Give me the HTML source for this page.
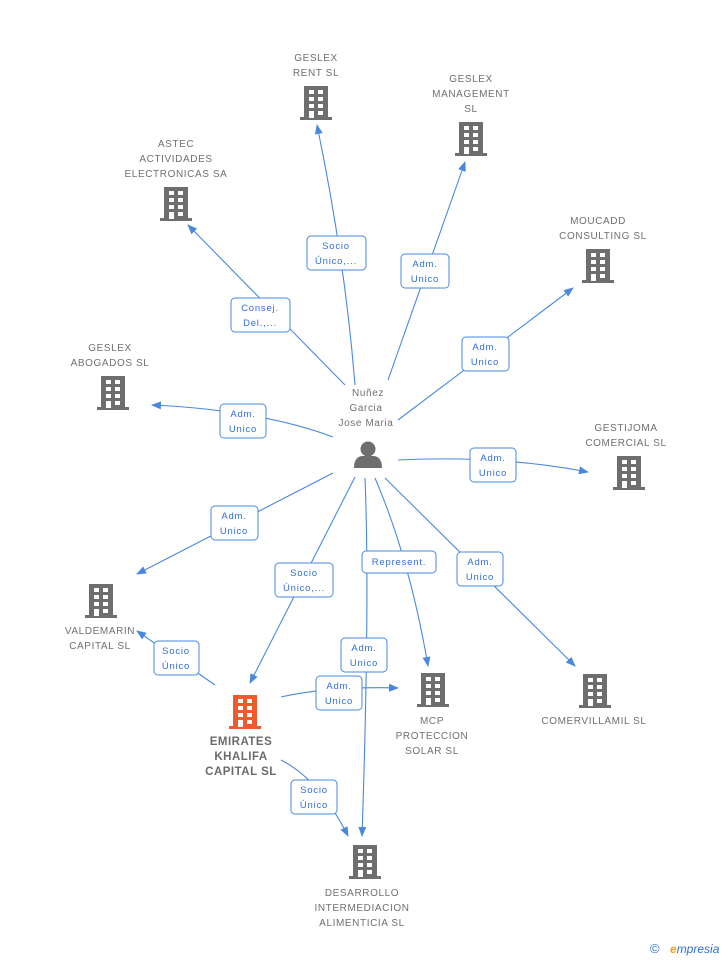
<!DOCTYPE html>
<html><head><meta charset="utf-8"><style>
body{margin:0;background:#fff;}
svg{display:block;font-family:"Liberation Sans",sans-serif;}
.n{font-size:10px;fill:#707070;text-anchor:middle;letter-spacing:0.6px}
.b{font-size:11.5px;fill:#6b6b6b;text-anchor:middle;font-weight:bold;letter-spacing:0.5px}
.l{font-size:9.5px;fill:#2f6fd8;text-anchor:middle;letter-spacing:0.8px}
.e{stroke:#4a88e0;stroke-width:1.1;fill:none}
.bx{fill:#fff;stroke:#4a88e0;stroke-width:1;rx:4}
</style></head><body>
<svg width="728" height="960" viewBox="0 0 728 960">
<defs>
<symbol id="bd" viewBox="0 0 32 34">
<rect x="4" y="0" width="24" height="32"/>
<rect x="0" y="31" width="32" height="3"/>
<g fill="#fff">
<rect x="9" y="4" width="5" height="4"/><rect x="18" y="4" width="5" height="4"/>
<rect x="9" y="11" width="5" height="4"/><rect x="18" y="11" width="5" height="4"/>
<rect x="9" y="18" width="5" height="4"/><rect x="18" y="18" width="5" height="4"/>
<rect x="9" y="25" width="5" height="7"/><rect x="18" y="25" width="5" height="4"/>
</g>
</symbol>
<marker id="a" markerWidth="10" markerHeight="10" refX="9" refY="5" orient="auto" markerUnits="userSpaceOnUse"><path d="M0,1 L10,5 L0,9 Z" fill="#4a88e0"/></marker>
</defs>

<g class="e" marker-end="url(#a)">
<path d="M355,385 Q345,260 317,125"/>
<path d="M388,380 L465,162"/>
<path d="M345,385 L188,225"/>
<path d="M398,420 L573,288"/>
<path d="M333,437 Q260,410 152,405"/>
<path d="M398,460 Q500,455 588,472"/>
<path d="M333,473 L137,574"/>
<path d="M355,477 L250,683"/>
<path d="M365,478 Q370,600 362,836"/>
<path d="M375,478 Q410,560 428,666"/>
<path d="M385,478 L575,666"/>
<path d="M215,685 L137,631"/>
<path d="M281,697 Q330,686 398,688"/>
<path d="M281,760 Q320,780 348,836"/>
</g>

<g>
<rect class="bx" x="307" y="236" width="59" height="34"/><text class="l" x="336" y="249">Socio</text><text class="l" x="336" y="264">Único,...</text>
<rect class="bx" x="401" y="254" width="48" height="34"/><text class="l" x="425" y="267">Adm.</text><text class="l" x="425" y="282">Unico</text>
<rect class="bx" x="231" y="298" width="59" height="34"/><text class="l" x="260" y="311">Consej.</text><text class="l" x="260" y="326">Del.,...</text>
<rect class="bx" x="462" y="337" width="47" height="34"/><text class="l" x="485" y="350">Adm.</text><text class="l" x="485" y="365">Unico</text>
<rect class="bx" x="220" y="404" width="46" height="34"/><text class="l" x="243" y="417">Adm.</text><text class="l" x="243" y="432">Unico</text>
<rect class="bx" x="470" y="448" width="46" height="34"/><text class="l" x="493" y="461">Adm.</text><text class="l" x="493" y="476">Unico</text>
<rect class="bx" x="211" y="506" width="47" height="34"/><text class="l" x="234" y="519">Adm.</text><text class="l" x="234" y="534">Unico</text>
<rect class="bx" x="275" y="563" width="58" height="34"/><text class="l" x="304" y="576">Socio</text><text class="l" x="304" y="591">Único,...</text>
<rect class="bx" x="362" y="551" width="74" height="22"/><text class="l" x="399" y="565">Represent.</text>
<rect class="bx" x="457" y="552" width="46" height="34"/><text class="l" x="480" y="565">Adm.</text><text class="l" x="480" y="580">Unico</text>
<rect class="bx" x="341" y="638" width="46" height="34"/><text class="l" x="364" y="651">Adm.</text><text class="l" x="364" y="666">Unico</text>
<rect class="bx" x="154" y="641" width="45" height="34"/><text class="l" x="176" y="654">Socio</text><text class="l" x="176" y="669">Único</text>
<rect class="bx" x="316" y="676" width="46" height="34"/><text class="l" x="339" y="689">Adm.</text><text class="l" x="339" y="704">Unico</text>
<rect class="bx" x="291" y="780" width="46" height="34"/><text class="l" x="314" y="793">Socio</text><text class="l" x="314" y="808">Único</text>
</g>

<g fill="#6e6e6e">
<use href="#bd" x="300" y="86" width="32" height="34"/>
<use href="#bd" x="455" y="122" width="32" height="34"/>
<use href="#bd" x="160" y="187" width="32" height="34"/>
<use href="#bd" x="582" y="249" width="32" height="34"/>
<use href="#bd" x="97" y="376" width="32" height="34"/>
<use href="#bd" x="613" y="456" width="32" height="34"/>
<use href="#bd" x="85" y="584" width="32" height="34"/>
<use href="#bd" x="417" y="673" width="32" height="34"/>
<use href="#bd" x="579" y="674" width="32" height="34"/>
<use href="#bd" x="349" y="845" width="32" height="34"/>
</g>
<use href="#bd" x="229" y="695" width="32" height="34" fill="#f05a2c"/>

<g fill="#6e6e6e">
<circle cx="368" cy="449" r="7.5"/>
<path d="M354,468 Q354,457 362,456 L374,456 Q382,457 382,468 Z"/>
</g>

<text class="n" x="316" y="61">GESLEX</text><text class="n" x="316" y="76">RENT  SL</text>
<text class="n" x="471" y="82">GESLEX</text><text class="n" x="471" y="97">MANAGEMENT</text><text class="n" x="471" y="112">SL</text>
<text class="n" x="176" y="147">ASTEC</text><text class="n" x="176" y="162">ACTIVIDADES</text><text class="n" x="176" y="177">ELECTRONICAS SA</text>
<text class="n" x="598" y="224">MOUCADD</text><text class="n" x="603" y="239">CONSULTING SL</text>
<text class="n" x="110" y="351">GESLEX</text><text class="n" x="110" y="366">ABOGADOS SL</text>
<text class="n" x="368" y="396">Nuñez</text><text class="n" x="366" y="411">Garcia</text><text class="n" x="366" y="426">Jose Maria</text>
<text class="n" x="626" y="431">GESTIJOMA</text><text class="n" x="626" y="446">COMERCIAL SL</text>
<text class="n" x="100" y="634">VALDEMARIN</text><text class="n" x="100" y="649">CAPITAL  SL</text>
<text class="b" x="241" y="745">EMIRATES</text><text class="b" x="241" y="760">KHALIFA</text><text class="b" x="241" y="775">CAPITAL  SL</text>
<text class="n" x="432" y="724">MCP</text><text class="n" x="432" y="739">PROTECCION</text><text class="n" x="432" y="754">SOLAR  SL</text>
<text class="n" x="594" y="724">COMERVILLAMIL SL</text>
<text class="n" x="362" y="896">DESARROLLO</text><text class="n" x="362" y="911">INTERMEDIACION</text><text class="n" x="362" y="926">ALIMENTICIA SL</text>

<text x="650" y="953" font-size="13" fill="#2f6fd8">©</text>
<text x="670" y="953" font-size="12" fill="#2f6fd8" font-style="italic"><tspan fill="#f0a020" font-weight="bold">e</tspan>mpresia</text>
</svg>
</body></html>
